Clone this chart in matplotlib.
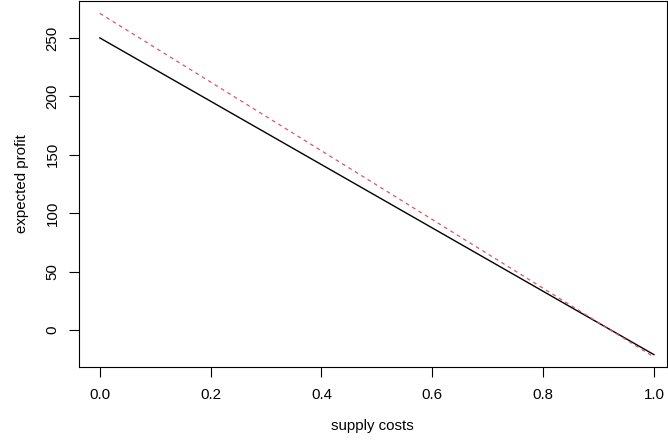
import matplotlib
matplotlib.use("Agg")
import matplotlib.pyplot as plt

# supply cost grid and the two expected profit curves
supply_costs = [0.0, 0.2, 0.4, 0.6, 0.8, 1.0]
profit_solid = [250.0, 195.8, 141.6, 87.4, 33.2, -21.0]
profit_dashed = [271.0, 212.2, 153.4, 94.6, 35.8, -23.0]

x_ticks = [0.0, 0.2, 0.4, 0.6, 0.8, 1.0]
x_tick_labels = ["0.0", "0.2", "0.4", "0.6", "0.8", "1.0"]
y_ticks = [0, 50, 100, 150, 200, 250]

plt.rcParams["font.family"] = ["Liberation Sans", "DejaVu Sans"]

fig = plt.figure(figsize=(6.68, 4.45), dpi=100)
ax = fig.add_axes([0.118, 0.175, 0.880, 0.823])

ax.plot(supply_costs, profit_solid, color="black", lw=1.0)
ax.plot(supply_costs, profit_dashed, color="#DF536B", lw=0.9, ls=(0, (3, 3)))

ax.set_xlim(-0.038, 1.023)
ax.set_ylim(-31.7, 281.7)

ax.set_xticks(x_ticks)
ax.set_xticklabels(x_tick_labels)
ax.set_yticks(y_ticks)
ax.set_yticklabels([str(v) for v in y_ticks], rotation=90, va="center")

ax.tick_params(length=7, width=0.8, labelsize=10.8)
ax.tick_params(axis="x", pad=8)
ax.tick_params(axis="y", pad=7)
for s in ax.spines.values():
    s.set_linewidth(0.8)

ax.set_xlabel("supply costs", fontsize=10.8, labelpad=12)
ax.set_ylabel("expected profit", fontsize=10.8, labelpad=12)

fig.savefig("out.png", dpi=100)
